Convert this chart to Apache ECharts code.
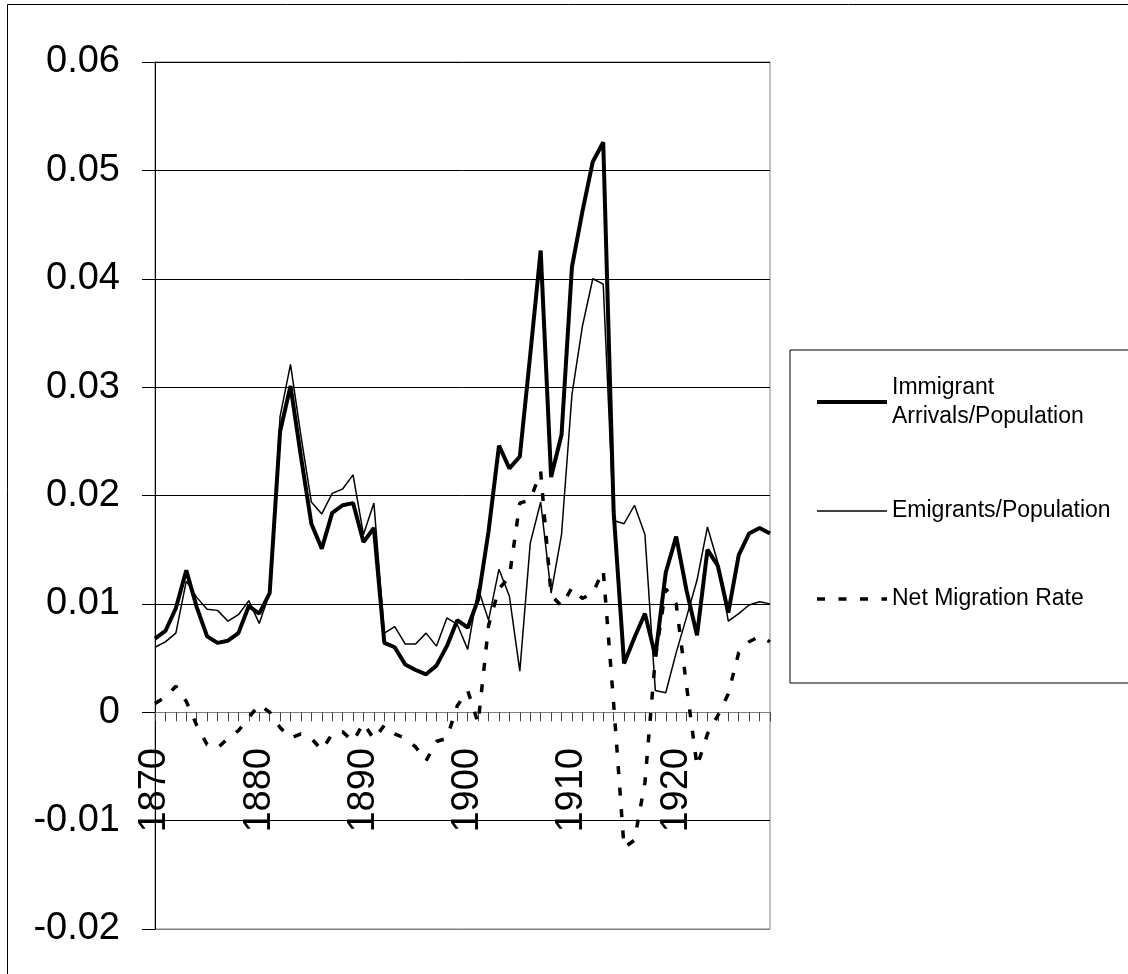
<!DOCTYPE html>
<html>
<head>
    <meta charset="utf-8">
    <title>Migration rates</title>
    <script src="https://cdn.jsdelivr.net/npm/echarts@6/dist/echarts.min.js"></script>
    <style>
        html, body { margin: 0; padding: 0; background: #fff; }
        #chart { width: 1128px; height: 974px; }
    </style>
</head>
<body>
<div id="chart"></div>
<script type="text/javascript">
    // years on the category axis
    var years = [1870, 1871, 1872, 1873, 1874, 1875, 1876, 1877, 1878, 1879,
        1880, 1881, 1882, 1883, 1884, 1885, 1886, 1887, 1888, 1889,
        1890, 1891, 1892, 1893, 1894, 1895, 1896, 1897, 1898, 1899,
        1900, 1901, 1902, 1903, 1904, 1905, 1906, 1907, 1908, 1909,
        1910, 1911, 1912, 1913, 1914, 1915, 1916, 1917, 1918, 1919,
        1920, 1921, 1922, 1923, 1924, 1925, 1926, 1927, 1928, 1929];

    // immigrant arrivals / population
    var arrivals = [0.0068, 0.0075, 0.0096, 0.0131, 0.0097, 0.0070, 0.0064, 0.0066, 0.0073, 0.0098,
        0.0091, 0.0110, 0.0259, 0.0301, 0.0236, 0.0174, 0.0151, 0.0184, 0.0191, 0.0193,
        0.0157, 0.0170, 0.0064, 0.0060, 0.0044, 0.0039, 0.0035, 0.0043, 0.0061, 0.0085,
        0.0078, 0.0104, 0.0167, 0.0246, 0.0225, 0.0236, 0.0330, 0.0426, 0.0217, 0.0256,
        0.0411, 0.0462, 0.0508, 0.0526, 0.0185, 0.0045, 0.0069, 0.0091, 0.0052, 0.0129,
        0.0162, 0.0112, 0.0071, 0.0150, 0.0135, 0.0092, 0.0145, 0.0165, 0.0170, 0.0165];

    // emigrants / population
    var emigrants = [0.0060, 0.0065, 0.0073, 0.0121, 0.0106, 0.0095, 0.0094, 0.0084, 0.0090, 0.0103,
        0.0082, 0.0110, 0.0273, 0.0321, 0.0255, 0.0194, 0.0183, 0.0202, 0.0206, 0.0219,
        0.0164, 0.0193, 0.0073, 0.0079, 0.0063, 0.0063, 0.0073, 0.0061, 0.0087, 0.0081,
        0.0058, 0.0114, 0.0085, 0.0132, 0.0107, 0.0038, 0.0156, 0.0194, 0.0110, 0.0164,
        0.0293, 0.0356, 0.0400, 0.0395, 0.0177, 0.0174, 0.0191, 0.0164, 0.0020, 0.0018,
        0.0055, 0.0088, 0.0122, 0.0171, 0.0138, 0.0084, 0.0091, 0.0099, 0.0102, 0.0100];

    // net migration rate
    var netRate = [0.0008, 0.0014, 0.0024, 0.0010, -0.0012, -0.0030, -0.0033, -0.0024, -0.0017, -0.0005,
        0.0007, 0.0000, -0.0014, -0.0024, -0.0020, -0.0024, -0.0035, -0.0020, -0.0018, -0.0027,
        -0.0010, -0.0025, -0.0012, -0.0020, -0.0024, -0.0032, -0.0045, -0.0027, -0.0024, 0.0006,
        0.0020, -0.0010, 0.0080, 0.0114, 0.0125, 0.0193, 0.0196, 0.0222, 0.0108, 0.0098,
        0.0115, 0.0105, 0.0110, 0.0131, 0.0008, -0.0125, -0.0118, -0.0065, 0.0050, 0.0114,
        0.0100, 0.0024, -0.0050, -0.0020, -0.0003, 0.0017, 0.0055, 0.0065, 0.0070, 0.0065];

    var FONT = '"Liberation Sans", Arial, sans-serif';
    var NAME_ARR = 'Immigrant Arrivals/Population';
    var NAME_EMI = 'Emigrants/Population';
    var NAME_NET = 'Net Migration Rate';

    var myChart = echarts.init(document.getElementById('chart'), null, {renderer: 'canvas'});

    // bottom gridline (-0.02) is the grey plot border, the rest are black
    var gridColors = ['#808080', '#000', '#000', '#000', '#000', '#000', '#000', '#000', '#000'];

    var option = {
        animation: false,
        backgroundColor: '#fff',
        textStyle: {fontFamily: FONT},
        grid: {
            left: 155, right: 358, top: 62, bottom: 45,
            containLabel: false,
            outerBoundsMode: 'none',
            show: true, borderColor: '#808080', borderWidth: 1
        },
        legend: {
            orient: 'vertical',
            left: 790, top: 350,
            padding: [18, 40, 71, 25],
            itemGap: 62,
            itemWidth: 70,
            itemHeight: 14,
            borderColor: '#000',
            borderWidth: 1,
            lineStyle: {width: 'inherit'},
            itemStyle: {opacity: 0, borderWidth: 0},
            textStyle: {fontFamily: FONT, fontSize: 23, color: '#000', lineHeight: 29},
            formatter: function (n) {
                return n === NAME_ARR ? 'Immigrant\nArrivals/Population' : n;
            },
            data: [
                {name: NAME_ARR, textStyle: {padding: [10, 0, 0, 0]}},
                {name: NAME_EMI, textStyle: {lineHeight: 26}},
                {name: NAME_NET, textStyle: {lineHeight: 26}}
            ]
        },
        xAxis: [
            {
                // axis line and ticks sit on the zero line
                type: 'category',
                data: years,
                boundaryGap: false,
                axisLine: {onZero: true, lineStyle: {color: '#808080', width: 1}},
                axisTick: {interval: 0, length: 9, lineStyle: {color: '#444'}},
                axisLabel: {show: false},
                splitLine: {show: false}
            },
            {
                // year labels, shifted up so they hang under the zero line
                type: 'category',
                data: years,
                boundaryGap: false,
                position: 'bottom',
                offset: -217,
                axisLine: {show: false},
                axisTick: {show: false},
                axisLabel: {
                    interval: 9, rotate: 90, margin: 36,
                    fontSize: 38, color: '#000', fontFamily: FONT
                },
                splitLine: {show: false}
            }
        ],
        yAxis: {
            type: 'value',
            min: -0.02, max: 0.06, interval: 0.01,
            axisLine: {show: true, lineStyle: {color: '#000'}},
            axisTick: {show: true, length: 13, lineStyle: {color: '#000'}},
            axisLabel: {fontSize: 38, color: '#000', margin: 35, fontFamily: FONT},
            splitLine: {show: true, lineStyle: {color: gridColors, width: 1}}
        },
        graphic: [{
            type: 'rect',
            silent: true,
            z: -10,
            shape: {x: 7.5, y: 4.5, width: 1200, height: 1100},
            style: {fill: 'none', stroke: '#000', lineWidth: 1}
        }],
        series: [
            {
                name: NAME_ARR, type: 'line', data: arrivals,
                symbol: 'none', showSymbol: false,
                lineStyle: {color: '#000', width: 4}, itemStyle: {color: '#000'}
            },
            {
                name: NAME_EMI, type: 'line', data: emigrants,
                symbol: 'none', showSymbol: false,
                lineStyle: {color: '#000', width: 1.5}, itemStyle: {color: '#000'}
            },
            {
                name: NAME_NET, type: 'line', data: netRate,
                symbol: 'none', showSymbol: false,
                lineStyle: {color: '#000', width: 3.5, type: [8, 13.5], cap: 'butt'},
                itemStyle: {color: '#000'}
            }
        ]
    };

    myChart.setOption(option);
</script>
</body>
</html>
